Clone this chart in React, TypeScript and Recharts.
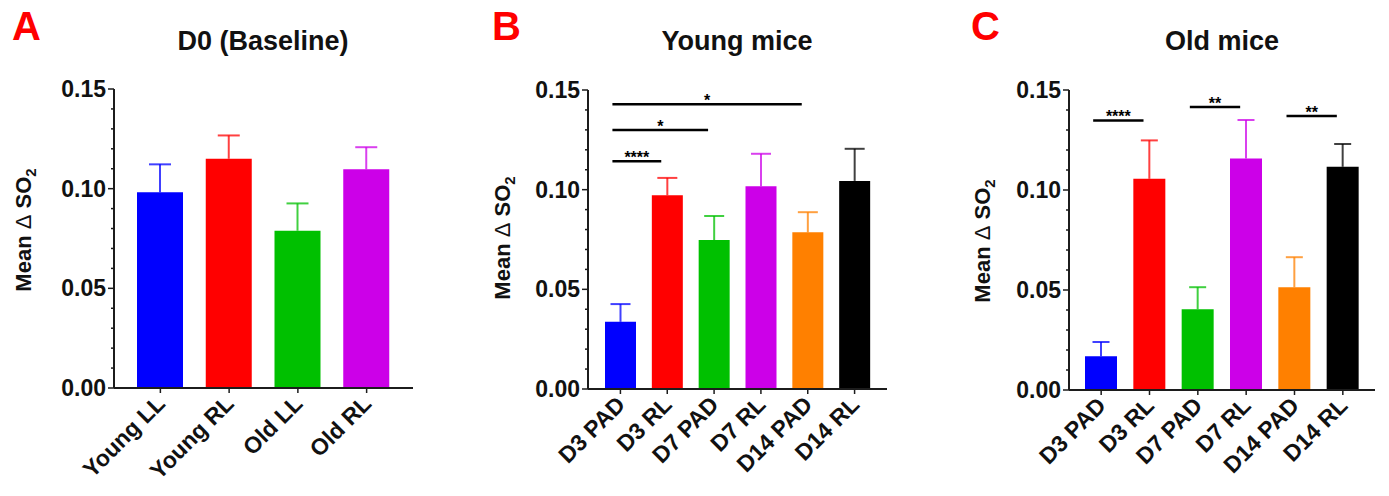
import { Bar, BarChart, Cell, Label, ReferenceLine, XAxis, YAxis } from "recharts";

const FONT = "'Liberation Sans', Arial, Helvetica, sans-serif";
const AXIS_COLOR = "#1c1c1c";

// D0 baseline
const baselineGroups = ["Young LL", "Young RL", "Old LL", "Old RL"];
const baselineMeans = [0.0982, 0.115, 0.0789, 0.1097];
const baselineErrors = [0.014, 0.0117, 0.0137, 0.0111];
const baselineColors = ["#0000ff", "#ff0000", "#00c000", "#cc00e8"];

// time points (young + old share the same groups)
const timeGroups = ["D3 PAD", "D3 RL", "D7 PAD", "D7 RL", "D14 PAD", "D14 RL"];
const youngMeans = [0.0337, 0.0972, 0.0747, 0.1017, 0.0786, 0.1044];
const youngErrors = [0.0089, 0.0087, 0.0121, 0.0163, 0.0101, 0.0161];
const oldMeans = [0.0169, 0.1056, 0.0404, 0.1158, 0.0514, 0.1116];
const oldErrors = [0.0071, 0.0192, 0.011, 0.0192, 0.015, 0.0114];
const timeColors = ["#0000ff", "#ff0000", "#00c000", "#cc00e8", "#ff8000", "#000000"];

const yTicks = [0, 0.01, 0.02, 0.03, 0.04, 0.05, 0.06, 0.07, 0.08, 0.09, 0.1, 0.11, 0.12, 0.13, 0.14, 0.15];

type Sig = { from: string; to: string; y: number; label: string };

const youngSig: Sig[] = [
  { from: "D3 PAD", to: "D3 RL", y: 0.1143, label: "****" },
  { from: "D3 PAD", to: "D7 PAD", y: 0.1299, label: "*" },
  { from: "D3 PAD", to: "D14 PAD", y: 0.1428, label: "*" },
];
const oldSig: Sig[] = [
  { from: "D3 PAD", to: "D3 RL", y: 0.1348, label: "****" },
  { from: "D7 PAD", to: "D7 RL", y: 0.1415, label: "**" },
  { from: "D14 PAD", to: "D14 RL", y: 0.137, label: "**" },
];

const YTick = ({ x, y, payload }: any) => {
  const major = Math.round(payload.value * 100) % 5 === 0;
  return (
    <g>
      <line x1={x} x2={x - (major ? 6 : 3)} y1={y} y2={y} stroke={AXIS_COLOR} strokeWidth={1.5} />
      {major && (
        <text x={x - 8} y={y} dy={8} textAnchor="end" fontFamily={FONT} fontSize={23} fontWeight={700} fill="#111">
          {payload.value.toFixed(2)}
        </text>
      )}
    </g>
  );
};

const XTick = ({ x, y, payload }: any) => {
  const ax = x + 6;
  const ay = y + 12;
  return (
    <text
      x={ax}
      y={ay}
      transform={`rotate(-45 ${ax} ${ay})`}
      textAnchor="end"
      fontFamily={FONT}
      fontSize={23}
      fontWeight={700}
      fill="#111"
    >
      {payload.value}
    </text>
  );
};

// error whisker drawn on top of the mean bar (stacked)
const makeWhisker = (cap: number) => (props: any) => {
  const { x, y, width, height, payload } = props;
  const cx = x + width / 2;
  return (
    <g stroke={payload.color} strokeWidth={2} strokeOpacity={0.75}>
      <line x1={cx} x2={cx} y1={y + height} y2={y} />
      <line x1={cx - cap / 2} x2={cx + cap / 2} y1={y} y2={y} />
    </g>
  );
};

const SigLine = (p: any) => (
  <line x1={p.x1 - 8} y1={p.y1} x2={p.x2 - 6} y2={p.y2} stroke="#000" strokeWidth={2.5} />
);

type PanelProps = {
  left: number;
  width: number;
  letter: string;
  letterX: number;
  title: string;
  titleX: number;
  groups: string[];
  means: number[];
  errors: number[];
  colors: string[];
  sig: Sig[];
  yAxisWidth: number;
  top: number;
  xAxisHeight: number;
  right: number;
  pad: number;
  barSize: number;
  cap: number;
  labelX: number;
  labelY: number;
};

const Panel = (p: PanelProps) => {
  const data = p.groups.map((g, i) => ({
    name: g,
    mean: p.means[i],
    err: p.errors[i],
    color: p.colors[i],
  }));
  return (
    <div style={{ position: "absolute", left: p.left, top: 0, width: p.width, height: 496 }}>
      <div
        style={{
          position: "absolute",
          left: p.letterX,
          top: 0,
          fontFamily: FONT,
          fontSize: 40,
          fontWeight: 700,
          color: "#ff0000",
          lineHeight: "52px",
        }}
      >
        {p.letter}
      </div>
      <div
        style={{
          position: "absolute",
          left: p.titleX - 150,
          width: 300,
          top: 21,
          textAlign: "center",
          fontFamily: FONT,
          fontSize: 27,
          fontWeight: 700,
          color: "#111",
          lineHeight: "40px",
        }}
      >
        {p.title}
      </div>
      <BarChart
        width={p.width}
        height={496}
        data={data}
        margin={{ top: p.top, right: p.right, left: 0, bottom: 0 }}
        barSize={p.barSize}
      >
        <XAxis
          dataKey="name"
          height={p.xAxisHeight}
          padding={{ left: p.pad, right: p.pad }}
          axisLine={{ stroke: AXIS_COLOR, strokeWidth: 2 }}
          tickLine={{ stroke: AXIS_COLOR, strokeWidth: 1.5 }}
          tickSize={5}
          tickMargin={0}
          interval={0}
          tick={<XTick />}
        />
        <YAxis
          width={p.yAxisWidth}
          domain={[0, 0.15]}
          ticks={yTicks}
          interval={0}
          tickSize={0}
          tickMargin={0}
          tickLine={false}
          axisLine={{ stroke: AXIS_COLOR, strokeWidth: 2 }}
          tick={<YTick />}
        >
          <Label
            content={({ viewBox }: any) => {
              const lx = viewBox.x + p.labelX;
              const ly = p.labelY;
              return (
                <text
                  x={lx}
                  y={ly}
                  transform={`rotate(-90 ${lx} ${ly})`}
                  textAnchor="middle"
                  fontFamily={FONT}
                  fontSize={22}
                  fontWeight={700}
                  fill="#111"
                >
                  Mean <tspan fontWeight={400}>Δ</tspan> SO
                  <tspan fontSize={15} dy={5}>
                    2
                  </tspan>
                </text>
              );
            }}
          />
        </YAxis>
        <Bar dataKey="mean" stackId="s" isAnimationActive={false}>
          {data.map((d) => (
            <Cell key={d.name} fill={d.color} />
          ))}
        </Bar>
        <Bar dataKey="err" stackId="s" isAnimationActive={false} shape={makeWhisker(p.cap)} />
        {p.sig.map((s) => (
          <ReferenceLine
            key={s.from + s.to}
            segment={[
              { x: s.from, y: s.y },
              { x: s.to, y: s.y },
            ]}
            stroke="#000"
            strokeWidth={2.5}
            shape={SigLine}
            label={{
              value: s.label,
              position: "top",
              offset: -2,
              dx: -7,
              fontSize: 16,
              fontWeight: 700,
              fill: "#000",
              fontFamily: FONT,
            }}
          />
        ))}
      </BarChart>
    </div>
  );
};

export default function App() {
  return (
    <div style={{ position: "absolute", left: 0, top: 0, width: 1389, height: 496, background: "#fff" }}>
      <Panel
        left={0}
        width={460}
        letter="A"
        letterX={12}
        title="D0 (Baseline)"
        titleX={263}
        groups={baselineGroups}
        means={baselineMeans}
        errors={baselineErrors}
        colors={baselineColors}
        sig={[]}
        yAxisWidth={114}
        top={89}
        xAxisHeight={108}
        right={47}
        pad={12}
        barSize={46}
        cap={22}
        labelX={31}
        labelY={230}
      />
      <Panel
        left={460}
        width={460}
        letter="B"
        letterX={32}
        title="Young mice"
        titleX={277}
        groups={timeGroups}
        means={youngMeans}
        errors={youngErrors}
        colors={timeColors}
        sig={youngSig}
        yAxisWidth={128}
        top={90}
        xAxisHeight={107}
        right={33}
        pad={9}
        barSize={31}
        cap={20}
        labelX={50}
        labelY={238}
      />
      <Panel
        left={920}
        width={469}
        letter="C"
        letterX={51}
        title="Old mice"
        titleX={302}
        groups={timeGroups}
        means={oldMeans}
        errors={oldErrors}
        colors={timeColors}
        sig={oldSig}
        yAxisWidth={149}
        top={90}
        xAxisHeight={106}
        right={14}
        pad={8}
        barSize={32}
        cap={17}
        labelX={70}
        labelY={241}
      />
    </div>
  );
}
